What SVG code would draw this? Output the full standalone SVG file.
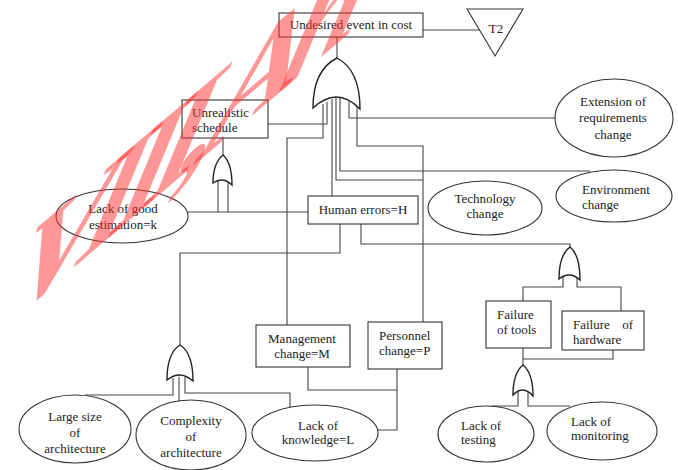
<svg xmlns="http://www.w3.org/2000/svg" width="678" height="470" viewBox="0 0 678 470">
<style>
.n rect, .n ellipse, .n polygon {fill:#fff; stroke:#333; stroke-width:1.1}
.g {fill:#fff; stroke:#222; stroke-width:1.4}
#connectors path {fill:none; stroke:#444; stroke-width:1.1}
text {font-family:"Liberation Serif","Times New Roman",serif; font-size:13px; fill:#222}
.m {text-anchor:middle}
.wm {font-family:"Liberation Serif","Times New Roman",serif; font-style:italic; font-weight:bold; font-size:145px; letter-spacing:-22px; fill:#ff3030; fill-opacity:0.5}
</style>
<rect width="678" height="470" fill="#fff"/>

<g id="connectors">
  <path d="M337,37 V58"/>
  <path d="M423,30 H480"/>
  <path d="M327,102 V124 H268"/>
  <path d="M323,104 V138 H287 V325"/>
  <path d="M332,99 V196"/>
  <path d="M336,98 V180 H423"/>
  <path d="M340,98 V171 H590"/>
  <path d="M349,101 V118 H555"/>
  <path d="M357,106 V146 H423 V322"/>
  <path d="M223,138 V155"/>
  <path d="M218,181 V212"/>
  <path d="M228,181 V212"/>
  <path d="M188,212 H308"/>
  <path d="M340,224 V253 H180 V345"/>
  <path d="M361,224 V244 H570 V247"/>
  <path d="M563,277 V287 H523 V301"/>
  <path d="M577,277 V287 H621 V311"/>
  <path d="M523,348 V365"/>
  <path d="M523,359 H613 V350"/>
  <path d="M518,392 V406 H492"/>
  <path d="M528,392 V406 H570"/>
  <path d="M173,378 V395 H85"/>
  <path d="M179,377 V401"/>
  <path d="M185,377 V393 H290 V407"/>
  <path d="M308,367 V390 H397"/>
  <path d="M397,369 V430 H378"/>
</g>

<g id="gates">
  <path class="g" d="M337,58 Q313,70 313,108 Q337,85.5 360,109 Q360,70 337,58 Z"/>
  <path class="g" d="M223,155 Q213,163 213,183 Q223,176 232,185 Q232,163 223,155 Z"/>
  <path class="g" d="M180,345 Q167,353 167,380 Q180,369.5 193,381 Q193,353 180,345 Z"/>
  <path class="g" d="M570,247 Q559,255 559,279 Q570,270.5 580,280 Q580,255 570,247 Z"/>
  <path class="g" d="M523,365 Q513,373 513,395 Q523,384.5 533,396 Q533,373 523,365 Z"/>
</g>

<g id="top" class="n"><rect x="279" y="13" width="144" height="24"/><text class="m" x="351" y="29">Undesired event in cost</text></g>
<g id="t2" class="n"><polygon points="467,9 523,9 495,56"/><text class="m" x="496" y="33">T2</text></g>
<g id="unrealistic" class="n"><rect x="182" y="100" width="86" height="38"/><text x="192" y="117">Unrealistic</text><text x="192" y="132">schedule</text></g>
<g id="estimation" class="n"><ellipse cx="122" cy="216" rx="66" ry="27"/><text class="m" x="123" y="213">Lack of good</text><text class="m" x="123" y="229">estimation=k</text></g>
<g id="human" class="n"><rect x="308" y="196" width="110" height="28"/><text class="m" x="363" y="214">Human errors=H</text></g>
<g id="extension" class="n"><ellipse cx="614" cy="118" rx="59" ry="39"/><text class="m" x="613" y="106">Extension of</text><text class="m" x="613" y="122">requirements</text><text class="m" x="613" y="139">change</text></g>
<g id="technology" class="n"><ellipse cx="485" cy="208" rx="57" ry="27"/><text class="m" x="485" y="203">Technology</text><text class="m" x="485" y="218">change</text></g>
<g id="environment" class="n"><ellipse cx="614" cy="196" rx="58" ry="26"/><text x="582" y="194">Environment</text><text x="582" y="209">change</text></g>
<g id="management" class="n"><rect x="256" y="325" width="94" height="42"/><text class="m" x="302" y="343">Management</text><text class="m" x="302" y="358">change=M</text></g>
<g id="personnel" class="n"><rect x="368" y="322" width="74" height="47"/><text x="379" y="340">Personnel</text><text x="379" y="355">change=P</text></g>
<g id="tools" class="n"><rect x="486" y="301" width="65" height="47"/><text x="497" y="319">Failure</text><text x="497" y="334">of tools</text></g>
<g id="hardware" class="n"><rect x="562" y="311" width="82" height="39"/><text x="573" y="329">Failure</text><text x="633" y="329" text-anchor="end">of</text><text x="573" y="344">hardware</text></g>
<g id="largesize" class="n"><ellipse cx="75" cy="429" rx="56" ry="34"/><text class="m" x="75" y="421">Large size</text><text class="m" x="75" y="437">of</text><text class="m" x="75" y="453">architecture</text></g>
<g id="complexity" class="n"><ellipse cx="191" cy="435" rx="55" ry="35"/><text class="m" x="191" y="425">Complexity</text><text class="m" x="191" y="441">of</text><text class="m" x="191" y="457">architecture</text></g>
<g id="knowledge" class="n"><ellipse cx="315" cy="433" rx="63" ry="28"/><text class="m" x="318" y="430">Lack of</text><text class="m" x="318" y="444">knowledge=L</text></g>
<g id="testing" class="n"><ellipse cx="486" cy="434" rx="48" ry="28"/><text x="461" y="430">Lack of</text><text x="461" y="444">testing</text></g>
<g id="monitoring" class="n"><ellipse cx="602" cy="431" rx="55" ry="29"/><text x="571" y="426">Lack of</text><text x="571" y="440">monitoring</text></g>

<text class="wm" transform="matrix(1,-0.85,-0.3,1,0,330)" x="0" y="0">VIII, Ah</text>
</svg>
